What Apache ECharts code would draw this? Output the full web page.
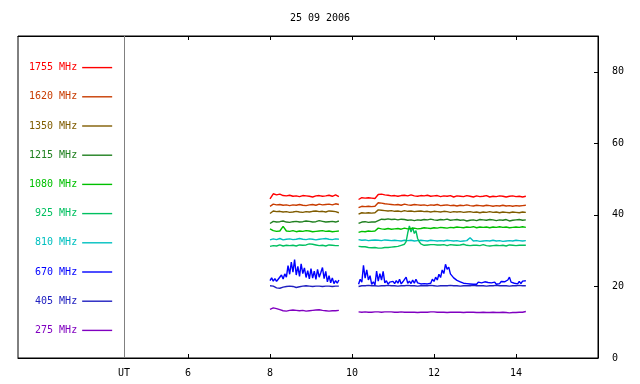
<!DOCTYPE html>
<html><head><meta charset="utf-8">
<script src="https://cdn.jsdelivr.net/npm/echarts@6/dist/echarts.min.js"></script>
<style>html,body{margin:0;padding:0;background:#fff}#c{width:640px;height:384px}</style>
</head><body><div id="c"></div>
<script>
const titleText = '25 09 2006';
const freqNames = ['1755 MHz','1620 MHz','1350 MHz','1215 MHz','1080 MHz','925 MHz','810 MHz','670 MHz','405 MHz','275 MHz'];
const freqColors = ['#ff0000','#c83c00','#805c00','#208020','#00c000','#00c060','#00c0c0','#0000ff','#2020c0','#8000c0'];
const xTickValues = [6, 8, 10, 12, 14];
const yTickValues = [0, 20, 40, 60, 80];
const utPosition = 4.44;
const seg1Start = 8.0, seg2Start = 10.16, coarseStep = 0.08, fineStep = 0.04;

// coarse series: segment A (22 samples), segment B (52 samples)
const f1755A = [44.5,45.9,45.6,45.8,45.4,45.3,45.5,45.2,45.3,45.1,45.4,45.3,45.2,45.0,45.3,45.4,45.2,45.3,45.5,45.2,45.6,45.1];
const f1755B = [44.3,44.8,44.7,44.8,44.7,44.6,45.7,45.8,45.6,45.5, 45.3,45.4,45.2,45.4,45.5,45.3,45.6,45.3,45.2,45.4, 45.3,45.5,45.2,45.3,45.4,45.1,45.3,45.2,45.4,45.0, 45.3,45.2,45.1,45.4,45.2,45.0,45.3,45.1,45.2,45.4, 45.0,45.2,45.1,45.3,45.2,45.0,45.2,45.3,45.1,45.2, 45.0,45.2];
const f1620A = [42.4,43.0,42.8,42.9,42.7,42.8,42.6,42.8,42.7,42.9,42.7,42.6,42.8,42.9,42.7,43.0,42.8,42.9,43.0,42.8,43.1,42.9];
const f1620B = [42.0,42.4,42.3,42.4,42.3,42.4,43.4,43.3,43.1,43.0, 42.9,42.8,42.9,42.7,43.0,42.8,42.7,42.9,42.8,42.7, 42.8,42.6,42.8,42.7,42.9,42.6,42.7,42.8,42.6,42.7, 42.5,42.7,42.6,42.8,42.6,42.5,42.7,42.6,42.5,42.7, 42.6,42.4,42.6,42.5,42.7,42.5,42.6,42.4,42.6,42.5, 42.6,42.7];
const f1350A = [40.4,41.1,40.9,41.0,40.8,40.9,40.7,40.8,41.0,40.8,40.7,40.9,40.8,41.0,41.1,40.9,41.0,40.8,41.1,41.0,40.9,40.6];
const f1350B = [40.2,40.6,40.5,40.6,40.5,40.6,41.4,41.3,41.2,41.1, 41.2,41.0,41.1,40.9,41.2,41.0,41.1,40.9,41.0,41.1, 40.9,41.0,40.8,41.0,40.9,40.8,41.0,40.9,40.7,40.9, 40.8,40.9,40.7,40.8,40.9,40.7,40.8,40.6,40.8,40.7, 40.9,40.7,40.8,40.6,40.8,40.7,40.6,40.8,40.7,40.6, 40.8,40.7];
const f1215A = [37.6,38.2,38.0,38.1,38.3,38.0,37.9,38.1,38.2,38.0,38.1,38.3,38.2,38.0,38.1,38.4,38.2,38.0,38.1,38.2,38.0,38.3];
const f1215B = [37.6,38.0,38.1,37.9,38.0,38.0,38.4,38.8,38.7,38.9, 38.7,38.8,38.6,38.8,38.7,38.5,38.6,38.4,38.6,38.5, 38.7,38.6,38.8,38.6,38.5,38.7,38.6,38.8,38.5,38.6, 38.7,38.5,38.6,38.3,38.5,38.6,38.4,38.7,38.6,38.5, 38.7,38.6,38.4,38.6,38.5,38.7,38.3,38.5,38.6,38.7, 38.5,38.6];
const f1080A = [36.1,35.6,35.4,35.5,36.8,35.5,35.4,35.6,35.3,35.5,35.4,35.6,35.5,35.3,35.4,35.5,35.6,35.4,35.5,35.3,35.4,35.5];
const f1080B = [35.1,35.4,35.3,35.5,35.4,35.5,36.3,36.1,36.0,36.2, 36.0,36.1,36.2,36.0,36.3,36.1,36.2,36.3,36.1,36.2, 36.4,36.3,36.2,36.4,36.3,36.5,36.4,36.3,36.5,36.4, 36.6,36.5,36.4,36.6,36.5,36.7,36.4,36.6,36.5,36.6, 36.4,36.6,36.5,36.7,36.5,36.6,36.4,36.5,36.6,36.5, 36.7,36.5];
const f810A = [33.0,33.3,33.1,33.4,33.0,33.2,33.3,33.1,33.2,33.4,33.2,33.1,33.3,33.2,33.0,33.2,33.3,33.4,33.2,33.1,33.3,33.2];
const f810B = [33.1,32.9,33.0,32.8,32.9,33.0,32.9,32.8,33.0,32.9, 32.8,32.9,32.8,32.7,32.9,32.8,32.9,32.7,32.8,32.9, 32.8,32.7,32.9,32.8,32.7,32.8,32.7,32.9,32.8,32.7, 32.8,32.6,32.7,32.8,33.6,32.7,32.8,32.6,32.7,32.8, 32.7,32.9,32.7,32.8,32.6,32.7,32.8,32.7,32.9,32.8, 32.7,32.8];
const f405A = [20.2,20.1,19.6,19.5,19.8,20.0,20.1,20.0,19.7,19.9,20.1,20.2,20.1,20.0,20.1,20.1,20.0,20.1,20.1,20.0,20.1,20.1];
const f405B = [20.0,20.2,20.2,20.3,20.2,20.2,20.1,20.2,20.2,20.3, 20.2,20.2,20.1,20.2,20.2,20.3,20.2,20.2,20.1,20.2, 20.2,20.2,20.3,20.2,20.1,20.2,20.2,20.2,20.3,20.2, 20.2,20.1,20.2,20.2,20.2,20.3,20.2,20.2,20.2,20.1, 20.2,20.2,20.3,20.2,20.2,20.2,20.1,20.2,20.2,20.3, 20.2,20.2];
const f275A = [13.6,14.0,13.8,13.5,13.2,13.1,13.3,13.4,13.3,13.2,13.3,13.1,13.2,13.3,13.4,13.5,13.3,13.2,13.1,13.2,13.2,13.3];
const f275B = [12.9,12.8,12.9,12.8,12.8,12.9,12.9,12.8,12.9,12.9, 12.9,12.8,12.8,12.9,12.8,12.8,12.8,12.8,12.7,12.8, 12.8,12.8,12.9,12.9,12.8,12.8,12.8,12.7,12.8,12.8, 12.8,12.8,12.7,12.8,12.8,12.8,12.7,12.7,12.8,12.7, 12.7,12.8,12.7,12.7,12.8,12.7,12.6,12.7,12.7,12.8, 12.8,13.0];

// fine series: segment A (43 samples), segment B (103 samples)
const f925A = [31.2,31.6,31.4,31.5,31.3,31.4,31.6,31.5,31.3,31.4, 31.5,31.3,31.4,31.6,31.5,31.4,31.3,31.5,31.6,31.4, 31.5,31.7,31.6,31.8,31.9,32.0,31.8,31.7,31.6,31.5, 31.4,31.3,31.5,31.4,31.3,31.5,31.6,31.4,31.5,31.3, 31.4,31.5,31.4];
const f925B = [31.2,31.0,31.1,30.9,31.1,31.0,
  30.9,31.0,30.8,31.0,30.9,30.8,30.7,30.9,30.7,30.8,
  30.9,31.0,30.9,31.1,31.0,31.2,31.1,31.3,31.2,31.4,31.5,31.6,31.8,32.5,
  35.0,36.9,35.2,36.5,34.8,35.6,33.4,32.5,
  31.9,31.6,31.5,31.7,31.6,31.8,31.7,31.6,
  31.7,31.5,31.6,31.8,31.6,31.5,31.7,31.6,31.4,31.6, 31.7,31.5,31.6,31.4,31.5,31.7,31.6,31.5,31.8,31.6, 31.5,31.7,31.4,31.6,31.5,31.3,31.5,31.6,31.4,31.5, 31.7,31.5,31.4,31.6,31.3,31.5,31.4,31.6,31.5,31.3, 31.4,31.6,31.5,31.4,31.3,31.5,31.6,31.4,31.5,31.3, 31.4,31.6,31.5,31.4,31.5,31.6,31.5];
const f670A = [21.6,22.4,21.5,22.2,21.4,22.0,21.7,23.2,22.1,23.5, 22.6,25.8,23.4,26.8,24.0,27.5,23.2,25.6,22.8,26.3, 23.6,25.2,22.5,24.4,22.1,25.0,22.3,24.3,22.0,24.8, 22.6,23.9,25.3,22.2,24.2,21.3,23.0,21.0,22.4,20.8, 21.6,20.9,21.8];
const f670B = [20.6,22.0,21.2,25.9,22.3,24.6,21.8,23.0,20.6,21.3, 20.4,24.3,21.5,23.6,21.8,24.2,21.0,21.6,20.6,21.2, 20.7,21.4,20.8,21.6,20.9,22.0,20.7,21.3,20.8,22.6, 20.9,21.5,20.8,21.8,20.9,22.0,21.0,21.4,20.7,21.2, 20.8,21.0,20.7,21.1,20.9,22.0,21.4,22.6,21.8,23.4, 22.5,24.6,23.6,26.2,24.8,25.4,23.5,23.9,22.4,22.8, 21.7,22.1,21.3,21.8,20.9,21.4,20.8,21.3,20.7,21.2, 20.6,21.0,20.6,21.2,20.7,21.0,20.6,21.3,20.8,21.1, 20.6,21.0,20.7,21.2,20.6,21.0,20.8,21.4,20.9,21.3, 21.0,21.8,22.6,21.2,21.7,20.9,21.3,20.7,21.4,20.8, 21.5,21.0,21.6];

const segA = [f1755A,f1620A,f1350A,f1215A,f1080A,f925A,f810A,f670A,f405A,f275A];
const segB = [f1755B,f1620B,f1350B,f1215B,f1080B,f925B,f810B,f670B,f405B,f275B];
const steps = [coarseStep,coarseStep,coarseStep,coarseStep,coarseStep,fineStep,coarseStep,fineStep,coarseStep,coarseStep];

function build(a, b, step) {
  const out = [];
  a.forEach((v, i) => out.push([+(seg1Start + i * step).toFixed(3), v]));
  out.push([(seg1Start + (a.length - 1) * step + seg2Start) / 2, '-']);
  b.forEach((v, i) => out.push([+(seg2Start + i * step).toFixed(3), v]));
  return out;
}

const mono = 'DejaVu Sans Mono';
const series = freqNames.map((name, k) => ({
  name: name, type: 'line', xAxisIndex: 0, yAxisIndex: 0,
  data: build(segA[k], segB[k], steps[k]),
  symbol: 'none', showSymbol: false, connectNulls: false, z: 10 - k,
  lineStyle: { color: freqColors[k], width: 1.4 }, itemStyle: { color: freqColors[k] },
  markLine: k === 0 ? { silent: true, symbol: ['none','none'], label: { show: false },
    lineStyle: { color: '#808080', type: 'solid', width: 1 }, data: [{ xAxis: utPosition }] } : undefined
}));

const chart = echarts.init(document.getElementById('c'), null, { renderer: 'canvas' });
chart.setOption({
  animation: false,
  backgroundColor: '#ffffff',
  title: { text: titleText, left: 'center', top: 8, textStyle: { fontFamily: mono, fontSize: 10, fontWeight: 'normal', color: '#000' } },
  legend: {
    orient: 'vertical', left: 24, top: 57, align: 'right',
    itemWidth: 30, itemHeight: 14, itemGap: 18, selectedMode: false,
    itemStyle: { opacity: 0 },
    lineStyle: { width: 1.4 },
    data: freqNames.map((n, k) => ({ name: n, textStyle: { color: freqColors[k] } })),
    textStyle: { fontFamily: mono, fontSize: 10 }
  },
  grid: { left: 18, right: 42, top: 36, bottom: 26, show: true, borderColor: '#000', borderWidth: 1, containLabel: false },
  xAxis: [{
    type: 'value', position: 'bottom', min: 1.854, max: 16.0,
    axisLine: { show: true, lineStyle: { color: '#000' } },
    axisTick: { show: true, inside: true, length: 4, customValues: xTickValues, lineStyle: { color: '#000' } },
    axisLabel: { customValues: [utPosition].concat(xTickValues), formatter: v => (v < 5 ? 'UT' : String(v)),
      fontFamily: mono, fontSize: 10, color: '#000', margin: 10 },
    splitLine: { show: false }
  }, {
    type: 'value', position: 'top', min: 1.854, max: 16.0,
    axisLine: { show: true, lineStyle: { color: '#000' } },
    axisTick: { show: true, inside: true, length: 4, customValues: xTickValues, lineStyle: { color: '#000' } },
    axisLabel: { show: false }, splitLine: { show: false }
  }],
  yAxis: [{
    type: 'value', position: 'right', min: 0, max: 90,
    axisLine: { show: true, lineStyle: { color: '#000' } },
    axisTick: { show: true, inside: true, length: 4, customValues: yTickValues, lineStyle: { color: '#000' } },
    axisLabel: { customValues: yTickValues, fontFamily: mono, fontSize: 10, color: '#000', margin: 14 },
    splitLine: { show: false }
  }],
  series: series
});
</script></body></html>
